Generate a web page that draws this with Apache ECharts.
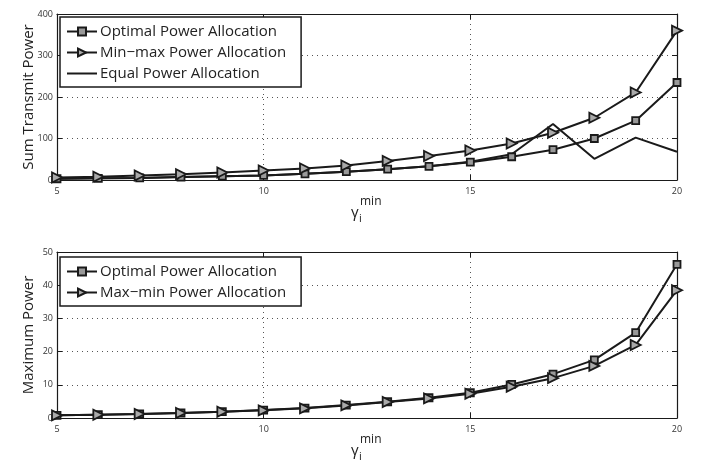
<!DOCTYPE html>
<html>
<head>
<meta charset="utf-8">
<script src="https://cdn.jsdelivr.net/npm/echarts@6/dist/echarts.min.js"></script>
<style>
  html, body { margin: 0; padding: 0; background: #fff; }
  #main { width: 701px; height: 462px; }
</style>
</head>
<body>
<div id="main"></div>
<script>
// gamma_i^min values on the x axis
var gammaMin = [5, 6, 7, 8, 9, 10, 11, 12, 13, 14, 15, 16, 17, 18, 19, 20];

// top panel: sum transmit power
var sumOptimal = [3, 4, 5, 7, 9, 11, 15, 20, 26, 33, 43, 56, 73, 100, 143, 235];
var sumMinMax  = [6, 8, 11, 14, 18, 23, 28, 35, 46, 58, 71, 88, 114, 150, 211, 360];
var sumEqual   = [3, 4, 5, 7, 9, 11, 15, 20, 26, 33, 44, 62, 135, 51, 102, 68];

// bottom panel: maximum power
var maxOptimal = [0.8, 1.0, 1.2, 1.5, 1.9, 2.4, 3.0, 3.9, 4.9, 6.1, 7.6, 10.1, 13.2, 17.5, 25.7, 46.3];
var maxMaxMin  = [0.8, 1.0, 1.2, 1.5, 1.9, 2.3, 2.9, 3.8, 4.8, 5.9, 7.3, 9.4, 12.0, 15.7, 22.0, 38.5];

var FONT = 'Open Sans';
var INK = '#1a1a1a';

function pairs(ys) {
    return gammaMin.map(function (x, i) { return [x, ys[i]]; });
}

var squareMark = {
    symbol: 'rect', symbolSize: 7,
    itemStyle: { color: '#999', borderColor: INK, borderWidth: 1.8 }
};
var triMark = {
    symbol: 'triangle', symbolSize: 10, symbolRotate: -90,
    itemStyle: { color: '#aaa', borderColor: INK, borderWidth: 1.8 }
};

function lineSeries(name, ys, axis, mark) {
    var s = {
        name: name, type: 'line', data: pairs(ys),
        xAxisIndex: axis, yAxisIndex: axis,
        lineStyle: { color: INK, width: 2 },
        itemStyle: { color: INK },
        showSymbol: !!mark, symbol: 'none',
        animation: false, z: 3
    };
    if (mark) {
        s.symbol = mark.symbol;
        s.symbolSize = mark.symbolSize;
        if (mark.symbolRotate) s.symbolRotate = mark.symbolRotate;
        s.itemStyle = mark.itemStyle;
    }
    return s;
}

function xAx(grid, show) {
    return {
        type: 'value', gridIndex: grid, min: 5, max: 20, interval: 5,
        position: show ? 'bottom' : 'top',
        axisLine: { show: true, onZero: false, lineStyle: { color: INK, width: 1.2 } },
        axisTick: { show: true, inside: true, length: 5, lineStyle: { color: INK } },
        axisLabel: { show: show, showMinLabel: true, hideOverlap: false, fontFamily: FONT, fontSize: 9, color: '#333', margin: 7 },
        splitLine: { show: show, lineStyle: { color: '#555', type: [1, 4], width: 1 } }
    };
}

function yAx(grid, max, step, name, show) {
    return {
        type: 'value', gridIndex: grid, min: 0, max: max, interval: step,
        position: show ? 'left' : 'right',
        name: show ? name : '', nameLocation: 'middle', nameGap: 21,
        nameMoveOverlap: false,
        nameTextStyle: { fontFamily: FONT, fontSize: 15, color: '#222' },
        axisLine: { show: true, onZero: false, lineStyle: { color: INK, width: 1.2 } },
        axisTick: { show: true, inside: true, length: 5, lineStyle: { color: INK } },
        axisLabel: { show: show, showMinLabel: true, hideOverlap: false, fontFamily: FONT, fontSize: 9, color: '#333', margin: 4 },
        splitLine: { show: show, lineStyle: { color: '#555', type: [1, 4], width: 1 } }
    };
}

function legendBox(top, names) {
    return {
        orient: 'vertical', left: 60, top: top,
        data: names.map(function (n) {
            return n === 'Equal Power Allocation' ? { name: n, itemStyle: { opacity: 0 } } : n;
        }),
        itemWidth: 30, itemHeight: 10, itemGap: 6,
        padding: [7, 15, 6, 6],
        borderColor: INK, borderWidth: 1.5, backgroundColor: '#fff',
        textStyle: { fontFamily: FONT, fontSize: 15, color: '#222', padding: [0, 0, 0, -2] },
        selectedMode: false
    };
}

function gammaLabel(dy) {
    return [
        { type: 'text', left: 351, top: 205 + dy, style: { text: 'γ', fontFamily: FONT, fontSize: 15, fill: '#222' } },
        { type: 'text', left: 360, top: 196 + dy, style: { text: 'min', fontFamily: FONT, fontSize: 12, fill: '#222' } },
        { type: 'text', left: 359, top: 213 + dy, style: { text: 'i', fontFamily: FONT, fontSize: 11, fill: '#222' } }
    ];
}

var chart = echarts.init(document.getElementById('main'));
chart.setOption({
    backgroundColor: '#fff',
    animation: false,
    grid: [
        { left: 57, right: 24, top: 14, height: 166 },
        { left: 57, right: 24, top: 252, height: 166 }
    ],
    legend: [
        legendBox(17, ['Optimal Power Allocation', 'Min\u2212max Power Allocation', 'Equal Power Allocation']),
        legendBox(257, ['Optimal Power Allocation', 'Max\u2212min Power Allocation'])
    ],
    xAxis: [xAx(0, true), xAx(0, false), xAx(1, true), xAx(1, false)],
    yAxis: [
        yAx(0, 400, 100, 'Sum Transmit Power', true), yAx(0, 400, 100, '', false),
        yAx(1, 50, 10, 'Maximum Power', true), yAx(1, 50, 10, '', false)
    ],
    series: [
        lineSeries('Optimal Power Allocation', sumOptimal, 0, squareMark),
        lineSeries('Min\u2212max Power Allocation', sumMinMax, 0, triMark),
        lineSeries('Equal Power Allocation', sumEqual, 0, null),
        lineSeries('Optimal Power Allocation', maxOptimal, 2, squareMark),
        lineSeries('Max\u2212min Power Allocation', maxMaxMin, 2, triMark)
    ],
    graphic: gammaLabel(0).concat(gammaLabel(238))
});
</script>
</body>
</html>
